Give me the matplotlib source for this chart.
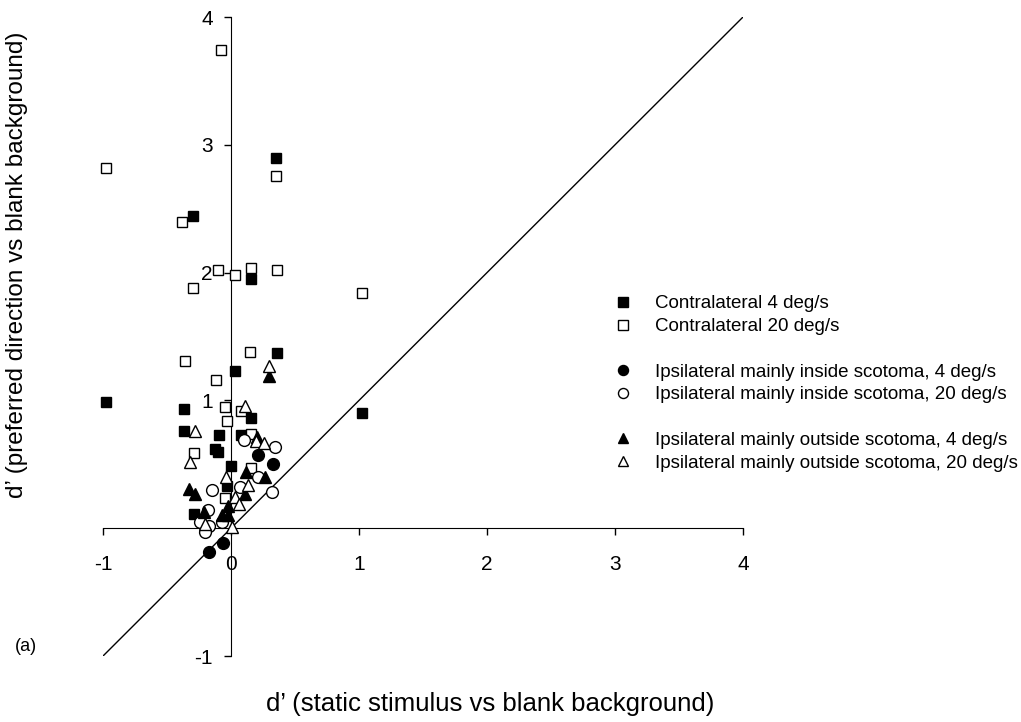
import matplotlib
matplotlib.use("Agg")
import matplotlib.pyplot as plt
from matplotlib.lines import Line2D

plt.rcParams["font.family"] = ["Liberation Sans", "DejaVu Sans"]

# contralateral, 4 deg/s (filled squares)
contra4_x = [-0.98, 0.35, -0.30, 0.16, 0.36, 0.03, 1.02, -0.37, 0.16, -0.37,
             -0.09, 0.08, -0.125, -0.10, 0.00, -0.29, -0.03]
contra4_y = [0.99, 2.90, 2.44, 1.95, 1.37, 1.23, 0.90, 0.93, 0.86, 0.76,
             0.73, 0.73, 0.62, 0.60, 0.49, 0.115, 0.33]

# contralateral, 20 deg/s (open squares)
contra20_x = [-0.08, -0.98, 0.35, -0.38, -0.10, 0.03, 0.16, 0.36, -0.30, 1.02,
              0.15, -0.36, -0.12, -0.05, 0.08, -0.03, 0.16, -0.29, 0.16, -0.05]
contra20_y = [3.74, 2.82, 2.76, 2.40, 2.02, 1.98, 2.04, 2.02, 1.88, 1.84,
              1.38, 1.31, 1.16, 0.95, 0.92, 0.84, 0.74, 0.59, 0.47, 0.235]

# ipsilateral mainly inside scotoma, 4 deg/s (filled circles)
in4_x = [0.21, 0.33, -0.06, -0.17]
in4_y = [0.575, 0.505, -0.115, -0.185]

# ipsilateral mainly inside scotoma, 20 deg/s (open circles)
in20_x = [0.10, 0.34, 0.21, -0.15, 0.07, 0.32, -0.18, -0.24, -0.175, -0.20, -0.07]
in20_y = [0.69, 0.635, 0.40, 0.30, 0.32, 0.28, 0.14, 0.05, 0.02, -0.03, 0.05]

# ipsilateral mainly outside scotoma, 4 deg/s (filled triangles)
out4_x = [0.30, 0.20, 0.12, 0.265, -0.33, -0.28, 0.11, -0.21, -0.07, -0.02, -0.02]
out4_y = [1.19, 0.71, 0.44, 0.40, 0.31, 0.27, 0.27, 0.13, 0.10, 0.10, 0.17]

# ipsilateral mainly outside scotoma, 20 deg/s (open triangles)
out20_x = [0.30, 0.11, -0.28, 0.195, 0.26, -0.32, -0.04, 0.13, 0.03, 0.06, -0.20, 0.005]
out20_y = [1.27, 0.96, 0.76, 0.68, 0.67, 0.515, 0.40, 0.34, 0.245, 0.19, 0.03, 0.01]

labels = [
    "Contralateral 4 deg/s",
    "Contralateral 20 deg/s",
    "Ipsilateral mainly inside scotoma, 4 deg/s",
    "Ipsilateral mainly inside scotoma, 20 deg/s",
    "Ipsilateral mainly outside scotoma, 4 deg/s",
    "Ipsilateral mainly outside scotoma, 20 deg/s",
]

fig = plt.figure(figsize=(10.21, 7.22), dpi=100)
ax = fig.add_axes([0.1009, 0.0914, 0.6268, 0.885])

ax.plot([-1, 4], [-1, 4], color="black", lw=1.0, zorder=1)

series = [
    (contra4_x, contra4_y, "s", "black", 7.8),
    (contra20_x, contra20_y, "s", "white", 7.8),
    (in4_x, in4_y, "o", "black", 8.5),
    (in20_x, in20_y, "o", "white", 8.5),
    (out4_x, out4_y, "^", "black", 8.5),
    (out20_x, out20_y, "^", "white", 8.5),
]
handles = []
for (xs, ys, m, fc, ms), lab in zip(series, labels):
    ax.plot(xs, ys, ls="none", marker=m, ms=ms, mfc=fc, mec="black",
            mew=1.0, zorder=3, clip_on=False)
    handles.append(Line2D([], [], ls="none", marker=m, ms=ms * 0.85, mfc=fc,
                          mec="black", mew=1.0, label=lab))

blank = Line2D([], [], ls="none", label=" ")
leg_handles = [handles[0], handles[1], blank, handles[2], handles[3], blank,
               handles[4], handles[5]]
ax.legend(handles=leg_handles, loc="upper left", frameon=False,
          bbox_to_anchor=(0.601, 0.591), bbox_transform=fig.transFigure,
          fontsize=13.5, handlelength=1.0, handletextpad=1.2,
          labelspacing=0.30, borderpad=0, borderaxespad=0)

ax.set_xlim(-1, 4)
ax.set_ylim(-1, 4)
ax.spines["left"].set_position(("data", 0))
ax.spines["bottom"].set_position(("data", 0))
ax.spines["top"].set_visible(False)
ax.spines["right"].set_visible(False)
ax.set_xticks([-1, 0, 1, 2, 3, 4])
ax.set_xticklabels(["-1", "0", "1", "2", "3", "4"])
ax.set_yticks([-1, 1, 2, 3, 4])
ax.set_yticklabels(["-1", "1", "2", "3", "4"])
ax.tick_params(direction="out", length=5, width=1, labelsize=15, pad=8)
ax.tick_params(axis="x", pad=14)

fig.text(0.017, 0.633, "d\u2019 (preferred direction vs blank background)",
         rotation=90, ha="center", va="center", fontsize=17.5)
fig.text(0.480, 0.025, "d\u2019 (static stimulus vs blank background)",
         ha="center", va="center", fontsize=18.5)
fig.text(0.025, 0.105, "(a)", ha="center", va="center", fontsize=13)

fig.savefig("out.png", dpi=100)
